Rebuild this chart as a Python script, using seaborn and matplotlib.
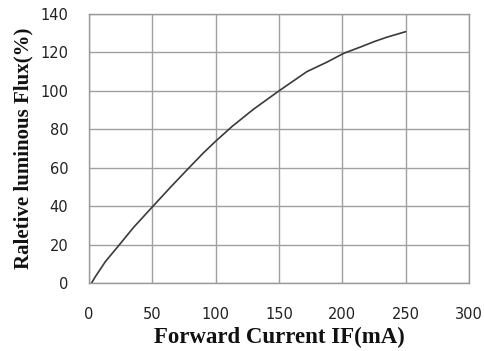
import matplotlib
matplotlib.use("Agg")
import matplotlib.pyplot as plt
import seaborn as sns
import pandas as pd

current_ma = [2, 5, 13, 23, 35, 50, 65, 78, 90, 100, 113, 130, 150, 172, 188, 201, 215, 225, 235, 250]
flux_pct = [0, 3.3, 11.2, 19.1, 28.8, 39.6, 50.3, 59.3, 67.5, 73.8, 81.5, 90.5, 100, 110, 115, 119.5, 123, 125.6, 127.9, 130.8]

x_ticks = [0, 50, 100, 150, 200, 250, 300]
y_ticks = [0, 20, 40, 60, 80, 100, 120, 140]

df = pd.DataFrame({"current": current_ma, "flux": flux_pct})

sns.set_theme(style="white")
fig = plt.figure(figsize=(4.84, 3.51), dpi=100)
ax = fig.add_axes([89/484, 1-283/351, (469-89)/484, (283-14)/351])

sns.lineplot(data=df, x="current", y="flux", ax=ax, color="#3a3a3a", linewidth=1.2)

ax.set_xlim(0, 300)
ax.set_ylim(0, 140)
ax.set_xticks(x_ticks)
ax.set_yticks(y_ticks)
ax.set_xticklabels([str(v) for v in x_ticks], fontsize=10.5, color="#222222", family="DejaVu Sans")
ax.set_yticklabels([str(v) for v in y_ticks], fontsize=10.5, color="#222222", family="DejaVu Sans")
ax.tick_params(axis="x", length=0, pad=17)
ax.tick_params(axis="y", length=0, pad=15)
ax.grid(True, color="#a0a0a0", linewidth=1.0)
for s in ax.spines.values():
    s.set_color("#999999")
    s.set_linewidth(1.0)

ax.set_xlabel("Forward Current IF(mA)", fontsize=16.5, fontweight="bold",
              family="Liberation Serif", labelpad=4, color="#111111")
ax.set_ylabel("Raletive luminous Flux(%)", fontsize=15, fontweight="bold",
              family="Liberation Serif", labelpad=5, color="#111111")

fig.savefig("out.png", dpi=100)
